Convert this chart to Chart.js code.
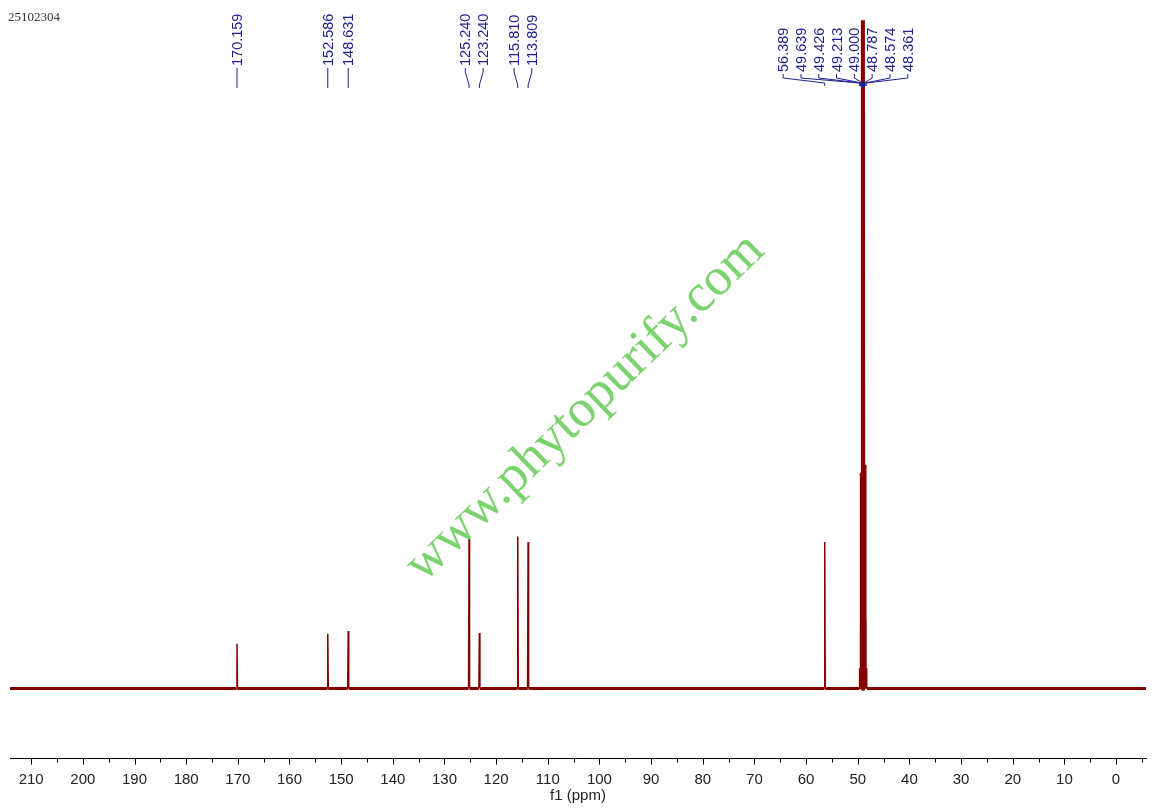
<!DOCTYPE html>
<html>
<head>
<meta charset="utf-8">
<script src="https://cdn.jsdelivr.net/npm/chart.js@4.4.1/dist/chart.umd.min.js"></script>
<style>
  html, body { margin: 0; padding: 0; background: #fff; }
  #wrap { width: 1157px; height: 808px; position: relative; }
  canvas { display: block; }
</style>
</head>
<body>
<div id="wrap"><canvas id="c" width="1157" height="808"></canvas></div>
<script>
// ---- data ----
const sampleId = '25102304';
const axisTitle = 'f1 (ppm)';
const watermarkText = 'www.phytopurify.com';
const ppmRange = [-5.8, 214.1];
const majorTicks = [210, 200, 190, 180, 170, 160, 150, 140, 130, 120, 110, 100, 90, 80, 70, 60, 50, 40, 30, 20, 10, 0];
const peakPpm = [170.159, 152.586, 148.631, 125.240, 123.240, 115.810, 113.809, 56.389, 49.639, 49.426, 49.213, 49.000, 48.787, 48.574, 48.361];
const peakIntensity = [6.6, 8.1, 8.5, 22.2, 8.2, 22.4, 21.6, 21.6, 3, 9, 31.8, 98.5, 33, 10, 3];
const peakLabels = ['170.159', '152.586', '148.631', '125.240', '123.240', '115.810', '113.809', '56.389', '49.639', '49.426', '49.213', '49.000', '48.787', '48.574', '48.361'];

// ---- build spectrum trace from the peak list ----
const halfW = 0.1;
const order = peakPpm.map((p, i) => i).sort((a, b) => peakPpm[b] - peakPpm[a]);
const trace = [{ x: ppmRange[1], y: 0 }];
order.forEach(i => {
  trace.push({ x: peakPpm[i] + halfW, y: 0 });
  trace.push({ x: peakPpm[i], y: peakIntensity[i] });
  trace.push({ x: peakPpm[i] - halfW, y: 0 });
});
trace.push({ x: ppmRange[0], y: 0 });

const RED = '#840000';
const NAVY = '#1f1f8e';

const decorPlugin = {
  id: 'decor',
  afterDraw(chart) {
    const ctx = chart.ctx;
    const xs = chart.scales.x;
    const area = chart.chartArea;
    ctx.save();

    // axis ticks (major & minor)
    ctx.strokeStyle = '#000';
    ctx.lineWidth = 1;
    for (let v = -5; v <= 215; v += 5) {
      const px = Math.round(xs.getPixelForValue(v)) + 0.5;
      if (px < area.left || px > area.right) continue;
      const len = (v % 10 === 0) ? 6 : 4;
      ctx.beginPath();
      ctx.moveTo(px, area.bottom);
      ctx.lineTo(px, area.bottom + len);
      ctx.stroke();
    }

    // sample id
    ctx.fillStyle = '#333';
    ctx.font = '13px "Liberation Serif", "DejaVu Serif", serif';
    ctx.textAlign = 'left';
    ctx.textBaseline = 'middle';
    ctx.fillText(sampleId, 8, 18);

    // peak labels with spreading
    const gap = 17.8;
    const items = peakPpm.map((p, i) => ({ i, px: xs.getPixelForValue(p) })).sort((a, b) => a.px - b.px);
    let groups = items.map(it => [it]);
    const layout = g => {
      const c = (g[0].px + g[g.length - 1].px) / 2;
      g.forEach((it, k) => { it.lx = c + (k - (g.length - 1) / 2) * gap; });
    };
    let merged = true;
    while (merged) {
      merged = false;
      groups.forEach(layout);
      for (let k = 0; k < groups.length - 1; k++) {
        const a = groups[k], b = groups[k + 1];
        if (b[0].lx - a[a.length - 1].lx < gap - 0.01) {
          groups.splice(k, 2, a.concat(b));
          merged = true;
          break;
        }
      }
    }
    groups.forEach(layout);

    ctx.font = '14.5px "Liberation Sans", Arial, sans-serif';
    ctx.fillStyle = NAVY;
    ctx.strokeStyle = NAVY;
    ctx.lineWidth = 1;
    groups.forEach(g => {
      const cluster = g.length > 2;
      const yT = cluster ? 72 : 66;
      const yEnd = cluster ? 86 : 88;
      g.forEach(it => {
        ctx.save();
        ctx.translate(it.lx, yT);
        ctx.rotate(-Math.PI / 2);
        ctx.textAlign = 'left';
        ctx.textBaseline = 'middle';
        ctx.fillText(peakLabels[it.i], 0, 1);
        ctx.restore();
        ctx.beginPath();
        if (Math.abs(it.lx - it.px) < 0.5) {
          ctx.moveTo(it.lx, yT + 2);
          ctx.lineTo(it.lx, yEnd);
        } else {
          ctx.moveTo(it.lx, yT + 2);
          ctx.lineTo(it.lx, yT + 6);
          ctx.lineTo(it.px, yEnd - 3);
          ctx.lineTo(it.px, yEnd);
        }
        ctx.stroke();
      });
      if (cluster) {
        const close = g.filter(it => g.some(o => o !== it && Math.abs(o.px - it.px) < 3));
        if (close.length) {
          const m = close.reduce((s, it) => s + it.px, 0) / close.length;
          ctx.beginPath();
          ctx.arc(m, yEnd - 1, 2.6, 0, Math.PI * 2);
          ctx.fill();
        }
      }
    });

    // watermark
    ctx.save();
    ctx.translate(585, 408);
    ctx.rotate(-44 * Math.PI / 180);
    ctx.font = '53px "Liberation Serif", "DejaVu Serif", serif';
    ctx.fillStyle = 'rgba(110,205,95,0.9)';
    ctx.textAlign = 'center';
    ctx.textBaseline = 'middle';
    ctx.fillText(watermarkText, 0, 0);
    ctx.restore();

    ctx.restore();
  }
};

new Chart(document.getElementById('c'), {
  type: 'line',
  data: {
    datasets: [{
      data: trace,
      borderColor: RED,
      borderWidth: 1.5,
      pointRadius: 0,
      tension: 0,
      fill: false,
      segment: {
        borderWidth: c => {
          const a = c.p0.parsed.y, b = c.p1.parsed.y;
          if (a === 0 && b === 0) return 3;
          if (Math.max(a, b) > 25) return 4;
          return 1.5;
        }
      }
    }]
  },
  options: {
    responsive: false,
    animation: false,
    events: [],
    layout: { padding: { left: 10, right: 11, top: 10, bottom: 0 } },
    plugins: { legend: { display: false }, tooltip: { enabled: false } },
    scales: {
      x: {
        type: 'linear',
        reverse: true,
        min: ppmRange[0],
        max: ppmRange[1],
        border: { display: true, color: '#000', width: 1 },
        grid: { display: true, drawOnChartArea: false, drawTicks: true, tickLength: 6, tickColor: 'rgba(0,0,0,0)' },
        ticks: {
          stepSize: 5,
          includeBounds: false,
          autoSkip: false,
          maxRotation: 0,
          padding: 7.5,
          color: '#222',
          font: { family: '"Liberation Sans", Arial, sans-serif', size: 15, lineHeight: 1 },
          callback: v => majorTicks.includes(v) ? String(v) : ''
        },
        title: {
          display: true,
          text: axisTitle,
          color: '#222',
          font: { family: '"Liberation Sans", Arial, sans-serif', size: 15, lineHeight: 1 },
          padding: { top: -6, bottom: 4.5 }
        }
      },
      y: { display: false, min: -10.3, max: 100 }
    }
  },
  plugins: [decorPlugin]
});
</script>
</body>
</html>
